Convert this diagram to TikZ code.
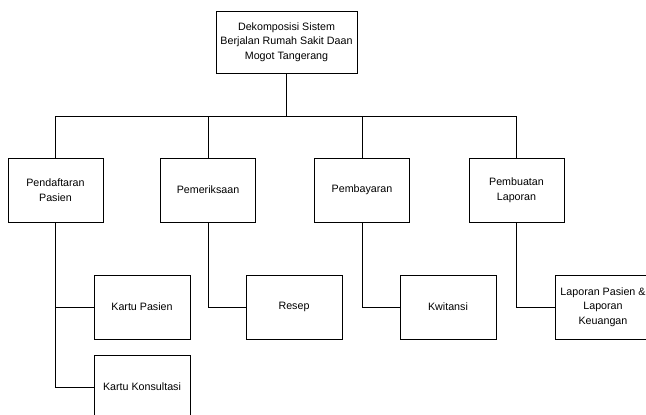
\documentclass[tikz,border=0pt]{standalone}
\usepackage{fontspec}
\setmainfont{Liberation Sans}
\begin{document}
\begin{tikzpicture}[x=1pt,y=-1pt,
  box/.style={draw=black, line width=0.9pt, rectangle, align=center, inner sep=0pt,
    font=\fontsize{10.7}{14.5}\selectfont, minimum width=95pt, minimum height=64pt},
  link/.style={draw=black, line width=0.9pt}]
\useasboundingbox (0,0) rectangle (646,415);
\clip (0,0) rectangle (646,415);
\node[box, minimum width=141pt, minimum height=62pt] (root) at (286.5,42) {Dekomposisi Sistem\\Berjalan Rumah Sakit Daan\\Mogot Tangerang};
\node[box] (b1) at (55.5,190) {Pendaftaran\\Pasien};
\node[box] (b2) at (208,190) {Pemeriksaan};
\node[box] (b3) at (362,190) {Pembayaran};
\node[box] (b4) at (516.5,190) {Pembuatan\\Laporan};
\node[box, minimum width=96pt] (k1) at (142,307) {Kartu Pasien};
\node[box, minimum width=96pt] (k2) at (142,387) {Kartu Konsultasi};
\node[box, minimum width=96pt] (r) at (294,307) {Resep};
\node[box, minimum width=96pt] (kw) at (448,307) {Kwitansi};
\node[box, minimum width=96pt] (lp) at (603,307) {Laporan Pasien \&\\Laporan\\Keuangan};
\coordinate (bus) at (286.5,116);
\path[link] (root.south) -- (root.south |- bus);
\path[link] (b1.north) -- (b1.north |- bus) -- (b4.north |- bus) -- (b4.north);
\path[link] (b2.north) -- (b2.north |- bus);
\path[link] (b3.north) -- (b3.north |- bus);
\path[link] (b1.south) |- (k1.west);
\path[link] (b1.south) |- (k2.west);
\path[link] (b2.south) |- (r.west);
\path[link] (b3.south) |- (kw.west);
\path[link] (b4.south) |- (lp.west);
\end{tikzpicture}
\end{document}
